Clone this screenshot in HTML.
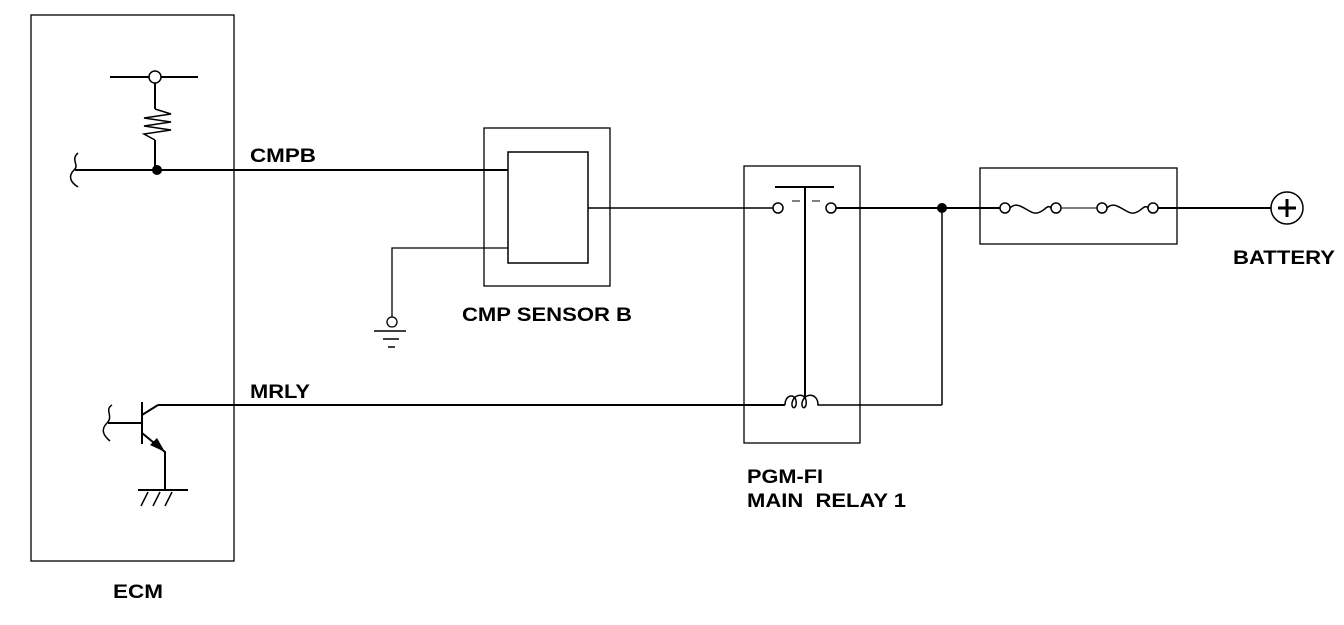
<!DOCTYPE html>
<html><head><style>
html,body{margin:0;padding:0;background:#fff;}
svg text{font-family:"Liberation Sans",Arial,sans-serif;font-weight:bold;font-size:19px;fill:#000;}
</style></head><body>
<svg width="1344" height="620" viewBox="0 0 1344 620" xmlns="http://www.w3.org/2000/svg">
<g fill="none" stroke="#000" stroke-width="1.3">
<rect x="31" y="15" width="203" height="546"/>
<rect x="484" y="128" width="126" height="158"/>
<rect x="744" y="166" width="116" height="277"/>
<rect x="980" y="168" width="197" height="76"/>
</g>
<g fill="none" stroke="#000" stroke-width="2">
<line x1="110" y1="77" x2="149" y2="77"/><line x1="161" y1="77" x2="198" y2="77"/>
<circle cx="155" cy="77" r="6" stroke-width="1.5"/>
<line x1="155" y1="83" x2="155" y2="109"/>
<polyline stroke-width="1.5" points="155,109 171,114 144,118 171,122 144,126 171,130 144,134 155,140"/>
<line x1="155" y1="140" x2="155" y2="170"/>
<line x1="75" y1="170" x2="508" y2="170"/>
<path d="M78,153 C70,160 80,165 74,170 C68,176 70,182 78,187" stroke-width="1.5"/>
<rect x="508" y="152" width="80" height="111" stroke-width="1.5"/>
<line x1="588" y1="208" x2="773" y2="208" stroke-width="1.5"/>
<polyline stroke-width="1.3" points="508,248 392,248 392,317"/>
<circle cx="392" cy="322" r="5" stroke-width="1.3"/>
<line x1="374" y1="331" x2="406" y2="331" stroke-width="1.5"/>
<line x1="383" y1="339" x2="399" y2="339" stroke-width="1.5"/>
<line x1="388" y1="347" x2="395" y2="347" stroke-width="1.5"/>
<circle cx="778" cy="208" r="5" stroke-width="1.5"/>
<circle cx="831" cy="208" r="5" stroke-width="1.5"/>
<line x1="775" y1="187" x2="834" y2="187"/>
<line x1="805" y1="187" x2="805" y2="398"/>
<line x1="792" y1="201" x2="800" y2="201" stroke-width="1"/>
<line x1="812" y1="201" x2="820" y2="201" stroke-width="1"/>
<line x1="836" y1="208" x2="1000" y2="208"/>
<line x1="942" y1="208" x2="942" y2="405" stroke-width="1.5"/>
<line x1="825" y1="405" x2="942" y2="405" stroke-width="1.5"/>
<path d="M785,405 C785,393 798,393 796,405 C794,411 790,406 793,400 C796,393 808,393 806,405 C804,411 800,406 803,400 C806,393 818,393 818,405 L825,405" stroke-width="1.5"/>
<line x1="158" y1="405" x2="785" y2="405"/>
<circle cx="1005" cy="208" r="5" stroke-width="1.5"/>
<circle cx="1056" cy="208" r="5" stroke-width="1.5"/>
<circle cx="1102" cy="208" r="5" stroke-width="1.5"/>
<circle cx="1153" cy="208" r="5" stroke-width="1.5"/>
<path d="M1010,208 C1020,198 1030,218 1040,212 C1045,210 1048,204 1051,208" stroke-width="1.5"/>
<path d="M1107,208 C1117,198 1127,218 1137,212 C1142,210 1145,204 1148,208" stroke-width="1.5"/>
<line x1="1061" y1="208" x2="1097" y2="208" stroke-width="1"/>
<line x1="1158" y1="208" x2="1271" y2="208"/>
<circle cx="1287" cy="208" r="16" stroke-width="1.5"/>
<line x1="1278" y1="208" x2="1296" y2="208" stroke-width="3"/>
<line x1="1287" y1="199" x2="1287" y2="217" stroke-width="3"/>
<line x1="142" y1="402" x2="142" y2="444"/>
<line x1="108" y1="423" x2="142" y2="423"/>
<path d="M112,405 C104,410 114,416 107,423 C100,430 104,436 110,441" stroke-width="1.5"/>
<polyline points="142,415 158,405"/>
<polyline points="142,433 165,452 165,490"/>
<line x1="138" y1="490" x2="188" y2="490"/>
<line x1="148" y1="492" x2="141" y2="506" stroke-width="1.5"/>
<line x1="160" y1="492" x2="153" y2="506" stroke-width="1.5"/>
<line x1="172" y1="492" x2="165" y2="506" stroke-width="1.5"/>
</g>
<polygon points="165,452 150,445 157,438" fill="#000"/>
<circle cx="157" cy="170" r="5" fill="#000"/>
<circle cx="942" cy="208" r="5" fill="#000"/>
<text x="250" y="162" textLength="66" lengthAdjust="spacingAndGlyphs">CMPB</text>
<text x="250" y="398" textLength="60" lengthAdjust="spacingAndGlyphs">MRLY</text>
<text x="462" y="321" textLength="170" lengthAdjust="spacingAndGlyphs">CMP SENSOR B</text>
<text x="747" y="483" textLength="76" lengthAdjust="spacingAndGlyphs">PGM-FI</text>
<text x="747" y="507" textLength="159" lengthAdjust="spacingAndGlyphs" style="white-space:pre">MAIN  RELAY 1</text>
<text x="1233" y="264" textLength="102" lengthAdjust="spacingAndGlyphs">BATTERY</text>
<text x="113" y="598" textLength="50" lengthAdjust="spacingAndGlyphs">ECM</text>
</svg>
</body></html>
